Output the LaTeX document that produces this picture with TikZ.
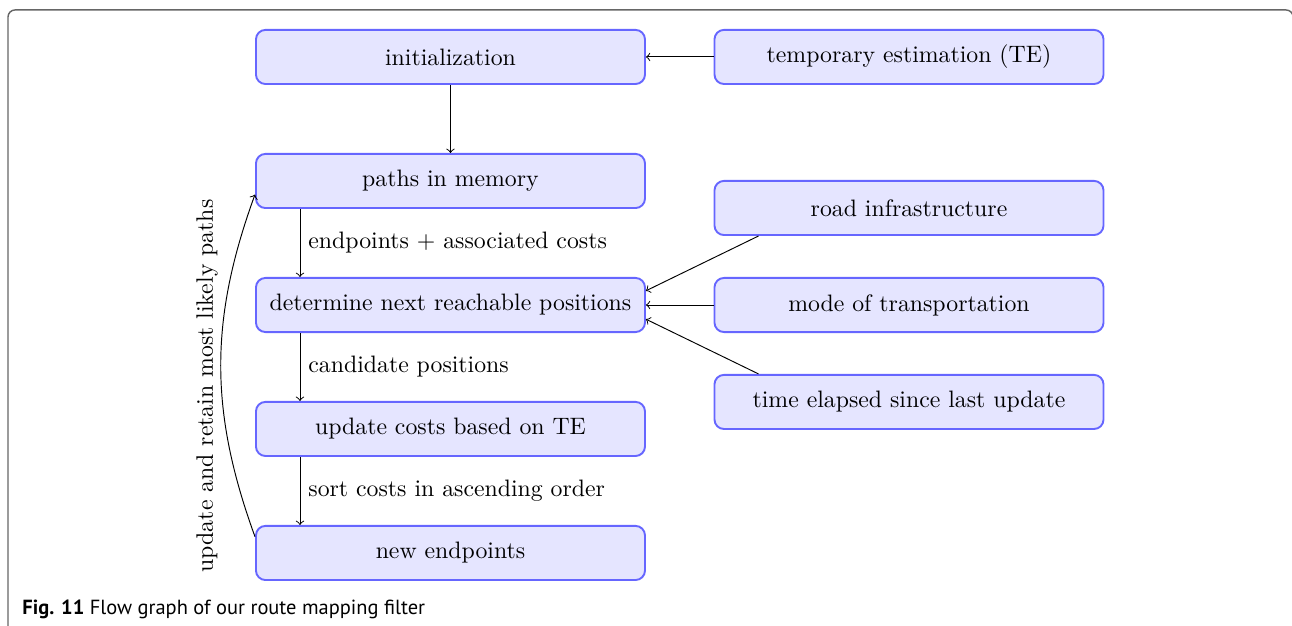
\documentclass[tikz,border=0pt]{standalone}
\usepackage{fontspec}
\newfontfamily\capfont{PT Sans}
\usetikzlibrary{positioning}

\tikzset{flowbox/.style={rectangle,rounded corners,draw=blue!60,fill=blue!10,thick,minimum width=5.75cm,minimum height=0.8cm}}

\begin{document}
\begin{tikzpicture}
\useasboundingbox (0,0) rectangle (19.096,9.252);
% frame round the figure (right side falls just off the page)
\draw[black!60,line width=0.6pt,rounded corners=3pt] (0.118,0) -- (0.118,9.105) -- (19.112,9.105) -- (19.112,0);

% left column
\node[flowbox] (init) at (6.658,8.410) {initialization};
\node[flowbox] (mem) at (6.658,6.577) {paths in memory};
\node[flowbox] (next) at (6.658,4.744) {determine next reachable positions};
\node[flowbox] (upd) at (6.658,2.912) {update costs based on TE};
\node[flowbox] (new) at (6.658,1.079) {new endpoints};

% right column
\node[flowbox] (te) at (13.435,8.410) {temporary estimation (TE)};
\node[flowbox] (road) at (13.435,6.178) {road infrastructure};
\node[flowbox] (mode) at (13.435,4.744) {mode of transportation};
\node[flowbox] (time) at (13.435,3.311) {time elapsed since last update};

\draw[->] (te) -- (init);
\draw[->] (init) -- (mem);
\draw[->] ([xshift=0.665cm]mem.south west) -- ([xshift=0.665cm]next.north west) node[midway,right] {endpoints + associated costs};
\draw[->] ([xshift=0.665cm]next.south west) -- ([xshift=0.665cm]upd.north west) node[midway,right] {candidate positions};
\draw[->] ([xshift=0.665cm]upd.south west) -- ([xshift=0.665cm]new.north west) node[midway,right] {sort costs in ascending order};

\draw[->] ([xshift=0.665cm]road.south west) -- ([yshift=0.21cm]next.east);
\draw[->] (mode) -- (next);
\draw[->] ([xshift=0.665cm]time.north west) -- ([yshift=-0.21cm]next.east);

% feedback loop
\draw[->] ([yshift=0.24cm]new.west) to[bend left=20] ([yshift=-0.2cm]mem.west);
\node[rotate=90] (loop) at (3.06,3.547) {update and retain most likely paths};

\node[anchor=base west,inner sep=0pt,font=\capfont\fontsize{8.6}{10}\selectfont] (cap) at (0.325,0.163) {\textbf{Fig. 11} Flow graph of our route mapping filter};
\end{tikzpicture}
\end{document}
